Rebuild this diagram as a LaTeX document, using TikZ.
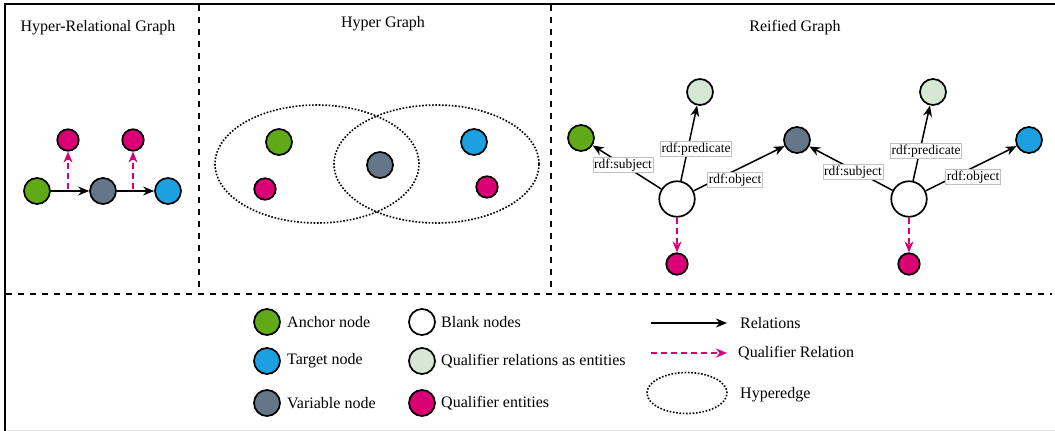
\documentclass[tikz,border=0pt]{standalone}
\usepackage{fontspec}
\setmainfont{Liberation Serif}
\usetikzlibrary{arrows.meta,shapes.geometric}
\definecolor{cgreen}{HTML}{60A917}
\definecolor{cblue}{HTML}{1BA1E2}
\definecolor{cgray}{HTML}{647687}
\definecolor{cmag}{HTML}{D80073}
\definecolor{clight}{HTML}{D5E8D4}
\begin{document}
\begin{tikzpicture}[x=1pt,y=-1pt,
  ent/.style={circle,draw=black,line width=1.7pt,minimum size=26pt,inner sep=0pt},
  qent/.style={ent,fill=cmag,minimum size=21.5pt},
  blank/.style={ent,fill=white,minimum size=35.5pt},
  rel/.style={line width=1.5pt,-{Stealth[length=11pt,width=9pt,inset=3.5pt]}},
  qrel/.style={draw=cmag,line width=1.5pt,dash pattern=on 6pt off 4pt,-{Stealth[length=11pt,width=9pt,inset=3.5pt]}},
  hedge/.style={ellipse,draw=black,line width=1.6pt,dash pattern=on 1.6pt off 1.7pt,inner sep=0pt},
  lbl/.style={draw=black!25,line width=0.5pt,fill=white,inner sep=1.2pt,font=\fontsize{13.5}{15}\selectfont},
  txt/.style={font=\fontsize{16}{19}\selectfont,inner sep=0pt},
  sepline/.style={line width=2pt,dash pattern=on 6pt off 6pt}]
\useasboundingbox (0,0) rectangle (1055,431);
% frame
\coordinate (tl) at (5,4);
\coordinate (tr) at (1055,4);
\coordinate (bl) at (5,431);
\draw[line width=2pt] (tr) -- (tl) -- (bl);
\draw[black!12,line width=0.8pt] (6,430) -- (1055,430);
\draw[sepline] (6,294) -- (1052,294);
\draw[sepline] (199,5) -- (199,294);
\draw[sepline] (551,5) -- (551,294);

% titles
\node[txt] (t1) at (98,28) {Hyper-Relational Graph};
\node[txt] (t2) at (383,24) {Hyper Graph};
\node[txt] (t3) at (795,28) {Reified Graph};

% hyper-relational graph
\node[ent,fill=cgreen] (a1) at (37,191) {};
\node[ent,fill=cgray] (v1) at (103,191) {};
\node[ent,fill=cblue] (b1) at (168,191) {};
\node[qent] (q1) at (68,140) {};
\node[qent] (q2) at (133,140) {};
\draw[rel] (a1) -- (v1);
\draw[rel] (v1) -- (b1);
\coordinate (m1) at (68,189);
\coordinate (m2) at (133,189);
\draw[qrel] (m1) -- (q1);
\draw[qrel] (m2) -- (q2);

% hyper graph
\node[hedge,minimum width=204pt,minimum height=118pt] (e1) at (317,164) {};
\node[hedge,minimum width=205pt,minimum height=118pt] (e2) at (436.5,164) {};
\node[ent,fill=cgreen] (a2) at (279,142) {};
\node[qent] (q3) at (265,189) {};
\node[ent,fill=cgray] (v2) at (380,165) {};
\node[ent,fill=cblue] (b2) at (474,142) {};
\node[qent] (q4) at (487,187) {};

% reified graph
\node[ent,fill=cgreen] (a3) at (581,138) {};
\node[ent,fill=clight] (p1) at (700,92) {};
\node[blank] (n1) at (677,199) {};
\node[ent,fill=cgray] (v3) at (797,140) {};
\node[qent] (q5) at (677,264) {};
\node[ent,fill=clight] (p2) at (933,92) {};
\node[blank] (n2) at (909,199) {};
\node[ent,fill=cblue] (b3) at (1029,140) {};
\node[qent] (q6) at (909,264) {};
\draw[rel] (n1) -- (a3);
\draw[rel] (n1) -- (p1);
\draw[rel] (n1) -- (v3);
\draw[qrel] (n1) -- (q5);
\draw[rel] (n2) -- (v3);
\draw[rel] (n2) -- (p2);
\draw[rel] (n2) -- (b3);
\draw[qrel] (n2) -- (q6);
\node[lbl] (l1) at (623,165) {rdf:subject};
\node[lbl] (l2) at (696,149) {rdf:predicate};
\node[lbl] (l3) at (735,180) {rdf:object};
\node[lbl] (l4) at (853,172) {rdf:subject};
\node[lbl] (l5) at (926,151) {rdf:predicate};
\node[lbl] (l6) at (973,177) {rdf:object};

% legend
\node[ent,fill=cgreen] (la) at (267,322) {};
\node[ent,fill=cblue] (lb) at (267,361) {};
\node[ent,fill=cgray] (lv) at (267,403) {};
\node[ent,fill=white] (lw) at (422,322) {};
\node[ent,fill=clight] (lp) at (422,361) {};
\node[ent,fill=cmag] (lq) at (422,403) {};
\node[txt,anchor=west] (ta) at (287,322) {Anchor node};
\node[txt,anchor=west] (tb) at (287,361) {Target node};
\node[txt,anchor=west] (tv) at (287,403) {Variable node};
\node[txt,anchor=west] (tw) at (441,322) {Blank nodes};
\node[txt,anchor=west] (tp) at (441,361) {Qualifier relations as entities};
\node[txt,anchor=west] (tq) at (441,403) {Qualifier entities};
\coordinate (r1s) at (651,323);
\coordinate (r1e) at (727,323);
\coordinate (r2s) at (651,353);
\coordinate (r2e) at (727,353);
\draw[rel] (r1s) -- (r1e);
\draw[qrel] (r2s) -- (r2e);
\node[hedge,minimum width=80pt,minimum height=41pt] (le) at (687,393) {};
\node[txt,anchor=west] (tr1) at (740,323) {Relations};
\node[txt,anchor=west] (tr2) at (738,353) {Qualifier Relation};
\node[txt,anchor=west] (tr3) at (740,395) {Hyperedge};
\end{tikzpicture}
\end{document}
